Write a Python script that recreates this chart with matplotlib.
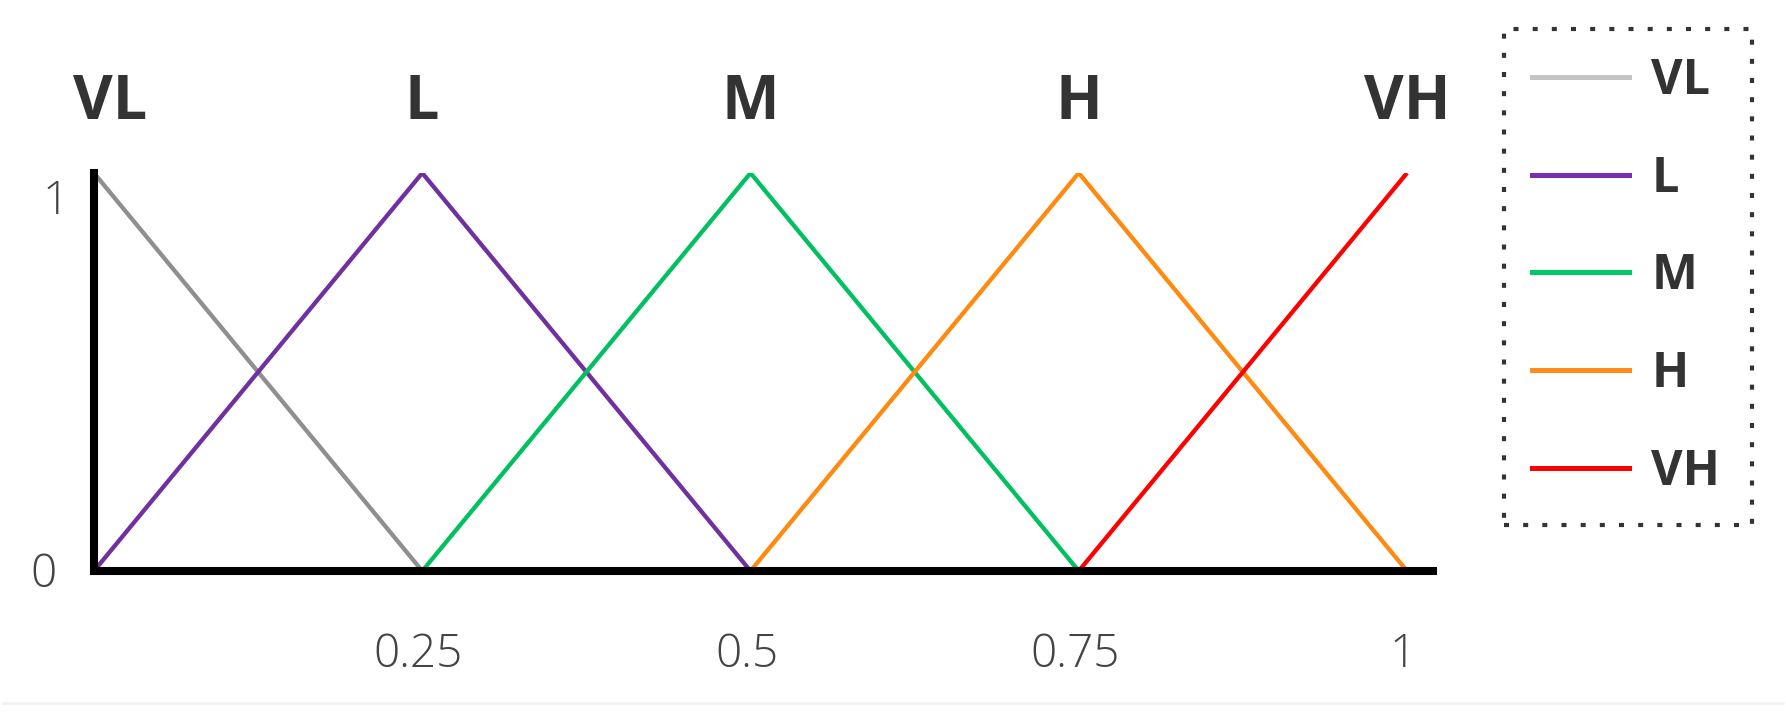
import matplotlib
matplotlib.use("Agg")
import matplotlib.pyplot as plt
from matplotlib.lines import Line2D

# ---- data ----
categories = ["VL", "L", "M", "H", "VH"]
x_points = [
    [0.0, 0.25],
    [0.0, 0.25, 0.5],
    [0.25, 0.5, 0.75],
    [0.5, 0.75, 1.0],
    [0.75, 1.0],
]
y_points = [
    [1, 0],
    [0, 1, 0],
    [0, 1, 0],
    [0, 1, 0],
    [0, 1],
]
peaks = [0.0, 0.25, 0.5, 0.75, 1.0]
colors = ["#8f8f8f", "#7030a0", "#00c060", "#ff8a10", "#ff0000"]
legend_colors = ["#c4c4c4", "#7a2fb0", "#00c864", "#ff8c1a", "#ff0000"]
xtick_vals = [0.25, 0.5, 0.75, 1.0]
xtick_labels = ["0.25", "0.5", "0.75", "1"]
ytick_vals = [0, 1]
ytick_labels = ["0", "1"]

W, H = 1786, 717
fig = plt.figure(figsize=(W / 100, H / 100), dpi=100)
ax = fig.add_axes([94 / W, (H - 571) / H, (1433 - 94) / W, (571 - 173) / H])
ax.set_xlim(0, 1339 / 1313)
ax.set_ylim(0, 1)

for xs, ys, c in zip(x_points, y_points, colors):
    ax.plot(xs, ys, color=c, lw=3.1, solid_capstyle="butt", zorder=2)

for s in ["top", "right"]:
    ax.spines[s].set_visible(False)
for s in ["left", "bottom"]:
    ax.spines[s].set_linewidth(5.8)
    ax.spines[s].set_color("black")
    ax.spines[s].set_capstyle("projecting")

ax.set_xticks([])
ax.set_yticks([])

tick_font = dict(family="Open Sans", fontsize=33, color="#444444", fontweight="light")
for v, lab in zip(xtick_vals, xtick_labels):
    ax.text(v - 0.003, -0.212, lab, ha="center", va="center", clip_on=False, **tick_font)
ax.text(-0.0388, -0.01, ytick_labels[0], ha="center", va="center", clip_on=False, **tick_font)
ax.text(-0.029, 0.927, ytick_labels[1], ha="center", va="center", clip_on=False, **tick_font)

top_font = dict(family="Open Sans", fontsize=44, color="#333333", fontweight="bold")
for i, (p, lab) in enumerate(zip(peaks, categories)):
    xx = p + (0.012 if i == 0 else 0.0)
    ax.text(xx, 1.135, lab, ha="center", va="baseline", clip_on=False, **top_font)

handles = [Line2D([], [], color=c, lw=3.6) for c in legend_colors]
leg = fig.legend(
    handles, categories,
    loc="upper left",
    bbox_to_anchor=(1504 / W, (H - 29) / H, (1752 - 1504) / W, 0.0),
    mode="expand",
    prop=dict(family="Open Sans", weight="bold", size=35),
    handlelength=2.0, handletextpad=0.45, labelspacing=1.0,
    borderpad=0.58, borderaxespad=0.0,
    fancybox=False, framealpha=1.0,
)
for t in leg.get_texts():
    t.set_color("#333333")
fr = leg.get_frame()
fr.set_edgecolor("#333333")
fr.set_linewidth(3.0)
fr.set_linestyle((0, (1.2, 3.4)))

fig.add_artist(Line2D([3 / W, 1783 / W], [(H - 703) / H] * 2, transform=fig.transFigure,
                      color="#f2f2f2", lw=2))

fig.savefig("out.png", dpi=100)
